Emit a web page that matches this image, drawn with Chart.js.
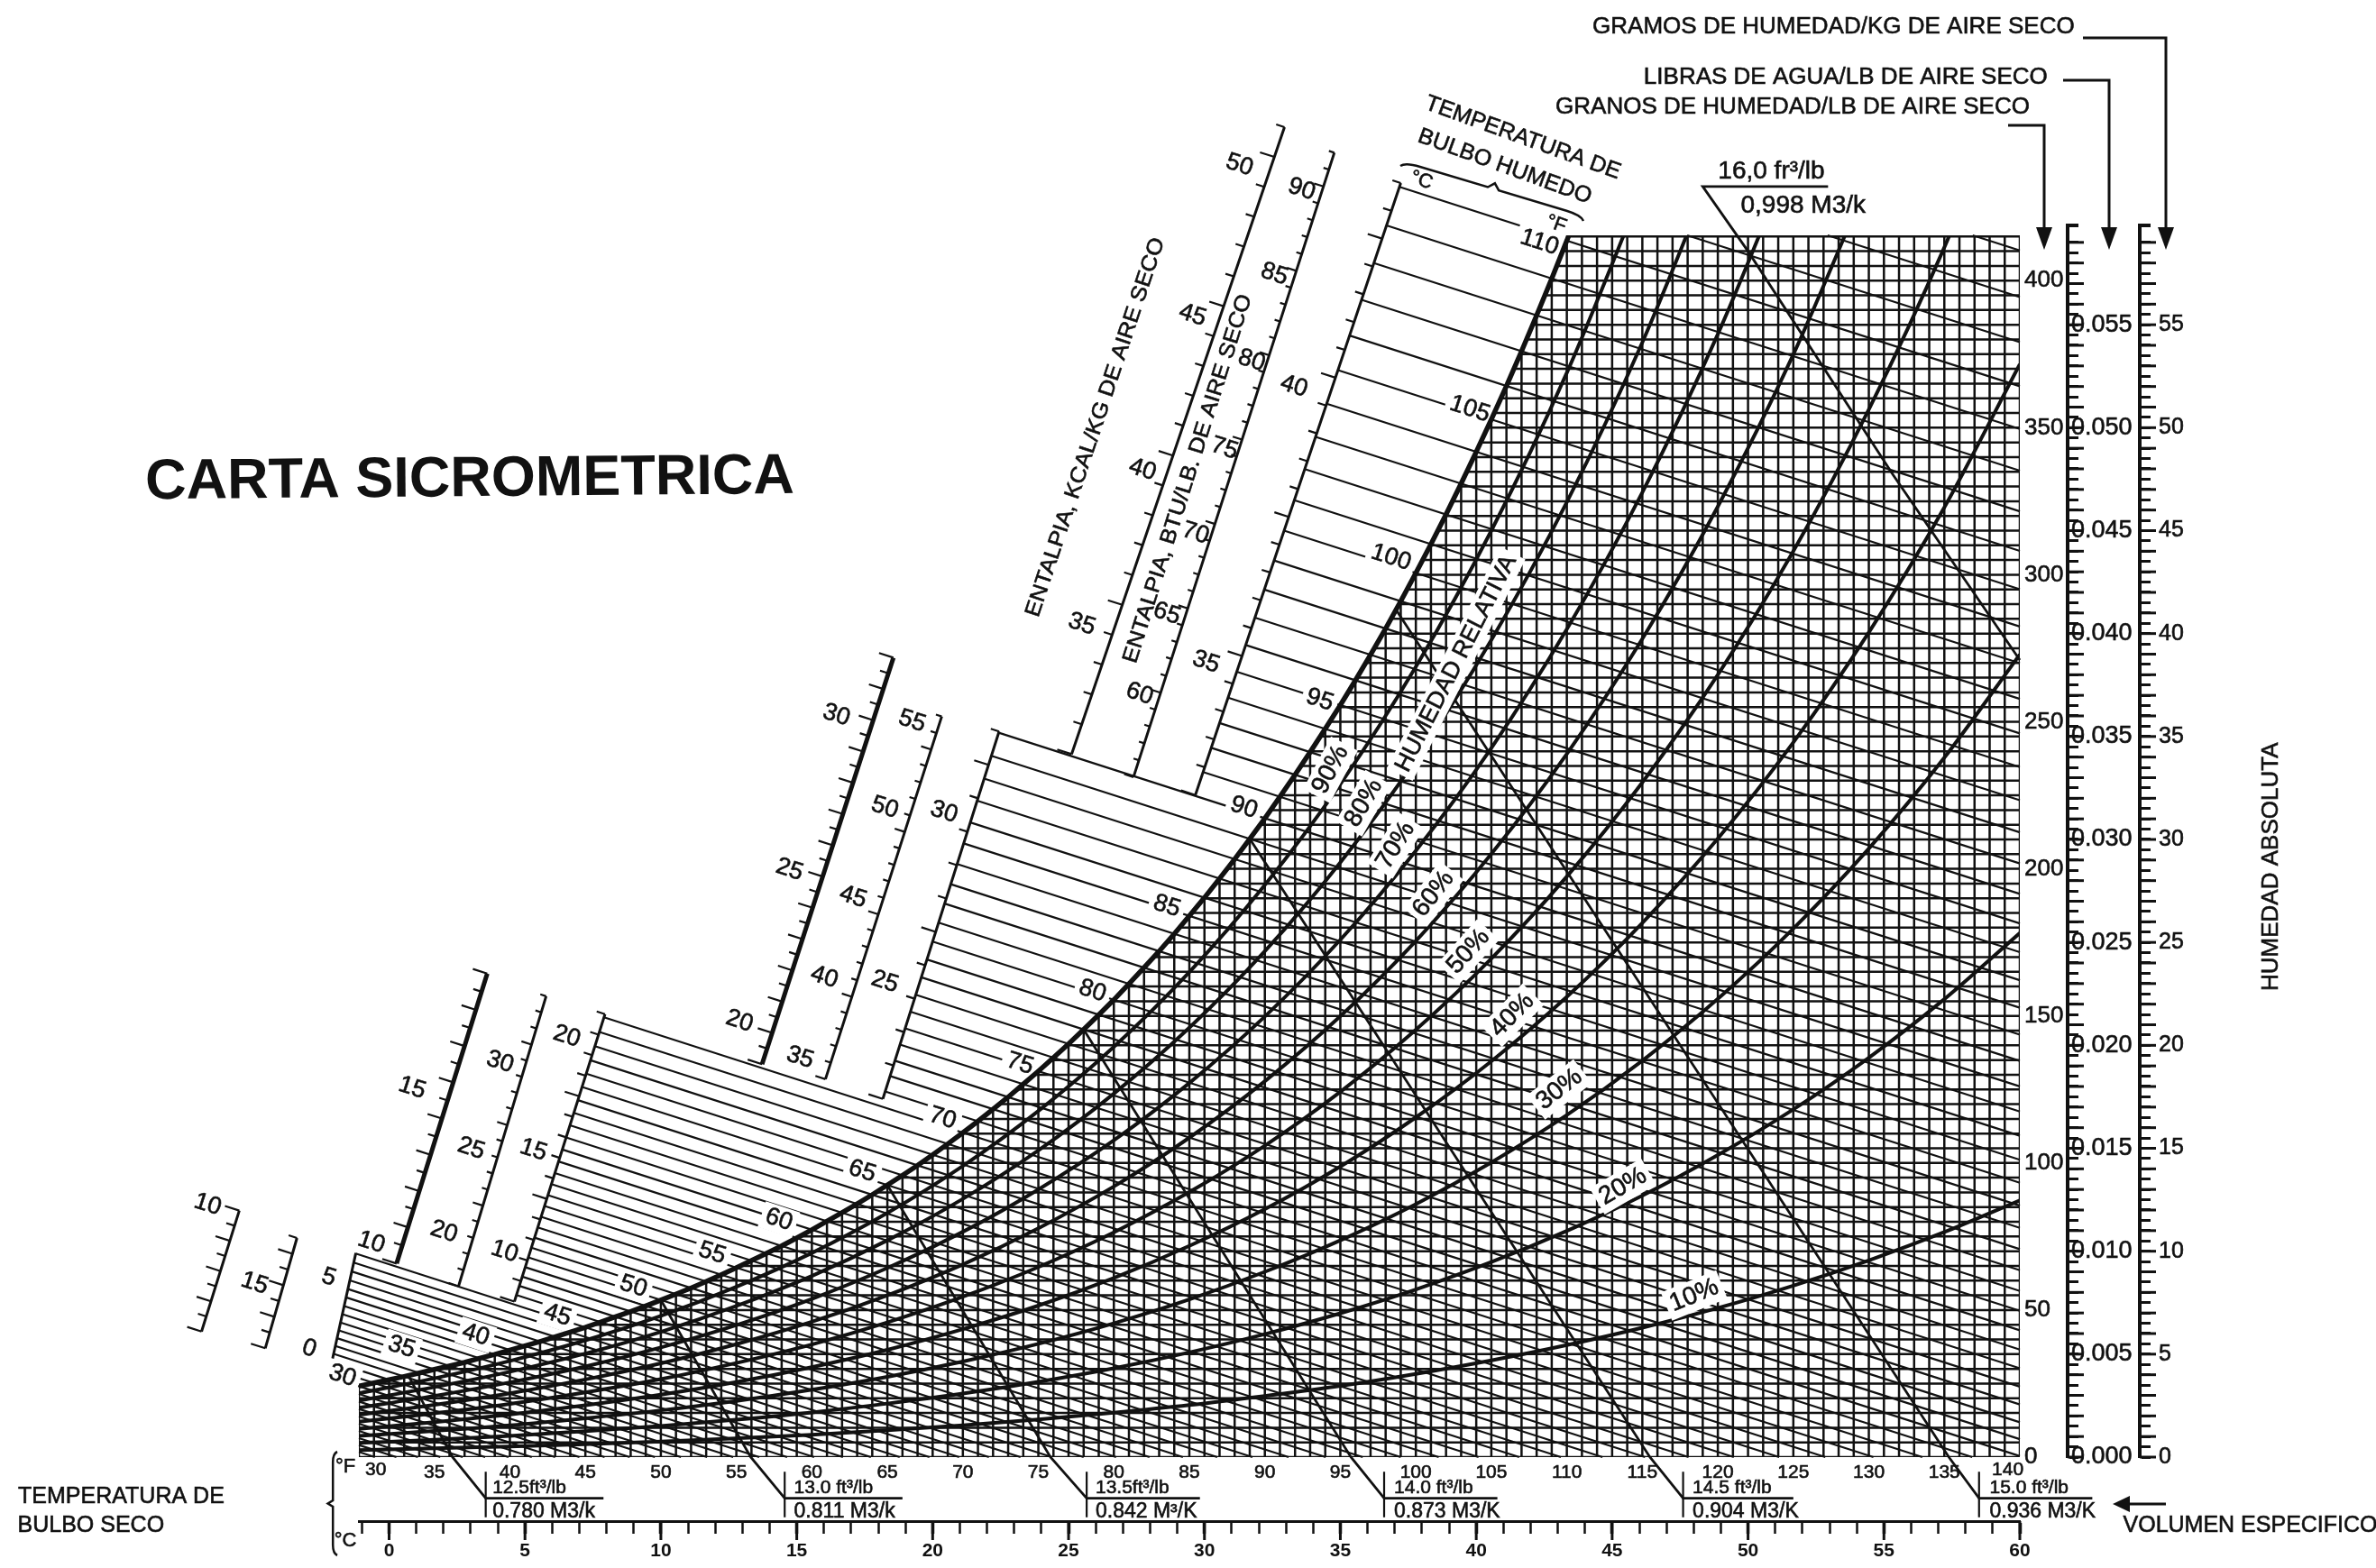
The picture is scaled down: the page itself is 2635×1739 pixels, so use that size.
<!DOCTYPE html>
<html><head><meta charset="utf-8">
<style>html,body{margin:0;padding:0;background:#fff;overflow:hidden}canvas{display:block}</style>
<script src="https://cdn.jsdelivr.net/npm/chart.js@4/dist/chart.umd.js"></script>
</head><body><canvas id="c" width="2635" height="1739"></canvas>
<script>
// ---- values (x: dry bulb °F, y: grains of moisture per lb) ----
const wetBulbF=[21,22,23,24,25,26,27,28,29,30,31,32,33,34,35,36,37,38,39,40,41,42,43,44,45,46,47,48,49,50,51,52,53,54,55,56,57,58,59,60,61,62,63,64,65,66,67,68,69,70,71,72,73,74,75,76,77,78,79,80,81,82,83,84,85,86,87,88,89,90,91,92,93,94,95,96,97,98,99,100,101,102,103,104,105,106,107,108,109,110,111,112,113];
const saturationGrains=[16.6,17.3,18.0,18.8,19.6,20.4,21.3,22.2,23.1,24.1,25.2,26.3,27.4,28.6,29.8,31.0,32.2,33.6,34.9,36.4,37.8,39.3,40.9,42.5,44.1,45.9,47.7,49.5,51.4,53.4,55.4,57.5,59.7,62.0,64.4,66.8,69.3,71.8,74.5,77.3,80.2,83.1,86.1,89.2,92.5,95.8,99.2,102.8,106.5,110.3,114.2,118.3,122.4,126.8,131.2,135.8,140.5,145.4,150.4,155.5,160.9,166.4,172.0,177.9,184.0,190.2,196.7,203.3,210.2,217.2,224.5,232.0,239.7,247.6,255.7,264.1,272.8,281.7,291.0,300.6,310.4,320.5,331.0,341.8,352.8,364.2,376.0,388.2,400.7,413.6,426.9,440.6,454.8];
const rhTemps=[30,35,40,45,50,55,60,65,70,75,80,85,90,95,100,105,110,115,120,125,130,135,140];
const rh90=[21.7,26.8,32.7,39.7,48.0,57.9,69.4,83.0,99.0,117.7,139.5,164.9,194.5,228.8,268.7,315,368.7,431];
const rh80=[19.2,23.8,29.0,35.2,42.6,51.4,61.6,73.7,87.8,104.3,123.6,146,172,202.2,237.2,277.8,324.7,379,441.8];
const rh70=[16.8,20.8,25.4,30.8,37.3,44.9,53.8,64.3,76.6,91.0,107.7,127.2,149.8,175.9,206.2,241.1,281.5,328,381.8,443.8];
const rh60=[14.4,17.8,21.7,26.4,31.9,38.4,46.0,55.0,65.5,77.8,92.0,108.6,127.8,149.9,175.5,205.1,239.1,278.2,323.2,374.9,434.5];
const rh50=[12.0,14.9,18.1,22.0,26.5,32.0,38.3,45.8,54.5,64.6,76.4,90.1,105.9,124.2,145.3,169.5,197.4,229.4,266,308,356.2,411.3,474.7];
const rh40=[9.6,11.9,14.5,17.6,21.2,25.5,30.6,36.5,43.5,51.5,60.9,71.8,84.3,98.8,115.5,134.6,156.5,181.6,210.3,243,280.4,322.9,371.6];
const rh30=[7.2,8.9,10.8,13.2,15.9,19.1,22.9,27.3,32.5,38.5,45.5,53.6,63.0,73.7,86.0,100.2,116.3,134.8,155.8,179.7,206.9,237.8,272.9];
const rh20=[4.8,5.9,7.2,8.8,10.6,12.7,15.2,18.2,21.6,25.6,30.2,35.6,41.8,48.9,57.0,66.3,76.9,88.9,102.7,118.2,135.8,155.7,178.2];
const rh10=[2.4,3.0,3.6,4.4,5.3,6.4,7.6,9.1,10.8,12.8,15.1,17.7,20.8,24.2,28.3,32.9,38.1,44,50.7,58.3,66.9,76.5,87.3];
// specific-volume lines: dry bulb / grains along each line, ending in the label rule below the axis
const vol125T=[33.3,36.2,38.4,46.2], vol125W=[27.5,0,-14,-14];
const vol130T=[50,55.95,58.2,66],    vol130W=[53.4,0,-14,-14];
const vol135T=[65,75.8,78.2,85.7],   vol135W=[92.5,0,-14,-14];
const vol140T=[78,95.7,97.9,105.4],  vol140W=[145.4,0,-14,-14];
const vol145T=[89,115.5,117.7,125],  vol145W=[210.2,0,-14,-14];
const vol150T=[98.7,135.3,137.3,144.8],vol150W=[288,0,-14,-14];
const vol160T=[127.3,119,122,131.6,140],vol160W=[432,432,410,334,271];
// wet-bulb blocks: highest and lowest end of each slanted left edge, and the wet-bulb range
const blockTopT=[29.8,46.3,72.4,99], blockTopW=[69.4,150.6,246.7,433.2];
const blockBotT=[28.1,40.3,64.7,85.4], blockBotW=[29.8,52.9,121.8,225.1];
const blockFirstWb=[30,46,71,91], blockLastWb=[45,70,90,110];
// slanted enthalpy / wet-bulb scales
const scaleTopT=[22.08,25.9,38.5,42.4,46.3,65.4,68.6,72.4,91.3,94.6,99];
const scaleTopW=[83.8,74.5,164.4,156.7,150.6,271.8,251.8,246.7,452.2,443.5,433.2];
const scaleBotT=[19.58,23.8,32.5,36.6,40.3,56.7,60.9,64.7,77.2,81.3,85.4];
const scaleBotW=[42.7,37,65.8,58.1,52.9,133.6,128.5,121.8,239,231.2,225.1];
const scaleIntervals=[8,7,16,18,14,26,22,11,21,37,22];
const scaleMajorEvery=[2,2,2,5,5,2,5,5,5,5,5];
const scaleThick=[0,0,1,0,0,1,0,0,0,0,0];
const scaleTickReach=[1,1,1,.7,1,1,.7,1,1,.65,1];

const WB_SLOPE=1.65, Y_MAX=415.4, INK='#111';
const satAt=t=>saturationGrains[wetBulbF.indexOf(t)];
function tempAtSat(w){
  for(let i=wetBulbF.indexOf(30);i<wetBulbF.length-1;i++){
    const a=saturationGrains[i],b=saturationGrains[i+1];
    if(w>=a&&w<=b) return wetBulbF[i]+(w-a)/(b-a);
  }
  return 30;
}
// ---- build line series ----
const gap={x:null,y:null};
const gridV=[],gridH=[],wbLines=[],scaleThin=[],scaleBold=[],scaleTicks=[];
for(let t=30;t<=140;t++){
  const top=t<=110?satAt(t):Y_MAX;
  gridV.push({x:t,y:0},{x:t,y:top},gap);
}
for(let w=0;w<=415;w+=5){
  gridH.push({x:w<24.1?30:tempAtSat(w),y:w},{x:140,y:w},gap);
}
gridH.push({x:110.1,y:Y_MAX},{x:140,y:Y_MAX},gap);
wetBulbF.forEach((tw,i)=>{
  const s=saturationGrains[i];
  let sx=30,sy=s-WB_SLOPE*(30-tw);
  if(tw>=30&&tw<=110){
    const b=blockLastWb.findIndex((l,k)=>tw>=blockFirstWb[k]&&tw<=l);
    const dT=blockTopT[b]-blockBotT[b],dW=blockTopW[b]-blockBotW[b];
    const u=(s-WB_SLOPE*(blockBotT[b]-tw)-blockBotW[b])/(dW+WB_SLOPE*dT);
    sx=blockBotT[b]+u*dT; sy=blockBotW[b]+u*dW;
  }else if(tw>110){ sx=tw+(s-Y_MAX)/WB_SLOPE; sy=Y_MAX; }
  let ex=140,ey=s-WB_SLOPE*(140-tw);
  if(ey<0){ex=tw+s/WB_SLOPE;ey=0;}
  wbLines.push({x:sx,y:sy},{x:ex,y:ey},gap);
});
scaleTopT.forEach((_,i)=>{
  const tt=scaleTopT[i],tw=scaleTopW[i],bt=scaleBotT[i],bw=scaleBotW[i],m=scaleIntervals[i];
  (scaleThick[i]?scaleBold:scaleThin).push({x:bt,y:bw},{x:tt,y:tw},gap);
  for(let k=0;k<=m;k++){
    const x=bt+(tt-bt)*k/m,y=bw+(tw-bw)*k/m,d=(k%scaleMajorEvery[i]===0?0.95:0.55)*scaleTickReach[i];
    scaleTicks.push({x,y},{x:x-d,y:y+WB_SLOPE*d},gap);
  }
});
scaleThin.push({x:blockBotT[0],y:blockBotW[0]},{x:blockTopT[0],y:blockTopW[0]},gap);
const zip=(xs,ys)=>xs.map((x,i)=>({x,y:ys[i]}));
const line=(data,w,extra)=>Object.assign({data,showLine:true,borderColor:INK,borderWidth:w,pointRadius:0,xAxisID:'x',yAxisID:'y',spanGaps:false,tension:0},extra||{});
const rhLine=v=>line(zip(rhTemps.slice(0,v.length),v),4,{cubicInterpolationMode:'monotone',tension:0});
const volLine=(t,w)=>line(zip(t,w),2.8,{clip:false});
const volTicks=[];
[38.4,58.2,78.2,97.9,117.7,137.3].forEach(t=>volTicks.push({x:t,y:-5},{x:t,y:-20.5},gap));
const satCurve=wetBulbF.filter(t=>t>=30&&t<=110).map(t=>({x:t,y:satAt(t)})).concat([{x:110.13,y:Y_MAX}]);
// Chart.js draws datasets last-to-first, so list the heavy lines before the grid
const datasets=[
  line(volTicks,2.2,{clip:false}),
  volLine(vol160T,vol160W),volLine(vol150T,vol150W),volLine(vol145T,vol145W),volLine(vol140T,vol140W),volLine(vol135T,vol135W),volLine(vol130T,vol130W),volLine(vol125T,vol125W),
  line(satCurve,5.5),
  rhLine(rh90),rhLine(rh80),rhLine(rh70),rhLine(rh60),rhLine(rh50),rhLine(rh40),rhLine(rh30),rhLine(rh20),rhLine(rh10),
  line(scaleTicks,2.2,{clip:false}),line(scaleBold,5,{clip:false}),line(scaleThin,3,{clip:false}),
  line(wbLines,2.2,{clip:false}),line(gridH,2.5),line(gridV,2.5)
];
const WB_LAST_INDEX=18; // scaleTicks: drawn after grid and wet-bulb lines, before the curves
// ---- text, in reference layout units ----
const U=2635/1568, FF='"Liberation Sans",Arial,sans-serif';
const notes=[];
const n=(t,x,y,r,s,o)=>notes.push(Object.assign({t,x,y,r:r||0,s:s||25},o||{}));
n('CARTA SICROMETRICA',310,317,-0.5,63,{bold:true});
n('GRAMOS DE HUMEDAD/KG DE AIRE SECO',1210,18,0,26);
n('LIBRAS DE AGUA/LB DE AIRE SECO',1218,51,0,26);
n('GRANOS DE HUMEDAD/LB DE AIRE SECO',1183,71,0,26);
n('TEMPERATURA DE',1005,91,20,25);
n('BULBO HUMEDO',993,110,20,25);
n('°C',938,119,20,22);n('°F',1027,148,20,22);
n('16,0 fr³/lb',1169,113,0,28);n('0,998 M3/k',1190,136,0,28);
n('ENTALPIA, KCAL/KG DE AIRE SECO',723,282,-71.5,24,{sx:1.08});
n('ENTALPIA, BTU/LB. DE AIRE SECO',784,316,-72.5,24,{sx:1.08});
n('HUMEDAD ABSOLUTA',1499,572,-90,26);
n('TEMPERATURA DE',80,988,0,25);n('BULBO SECO',60,1007,0,25);
n('VOLUMEN ESPECIFICO',1485,1007,0,25);
n('°F',228,968,0,22);n('°C',228,1017,0,22);
n('30',248,970,0,21);n('140',1325,970,0,21);
[['10',137,795],['15',168,847],['0',204,890],['5',217,843],['10',245,820],['15',272,718],['20',293,813],['25',311,758],['30',330,701],['10',333,826],['15',352,759],['20',374,684],['20',488,674],['25',521,574],['30',552,472],['35',528,698],['40',544,645],['45',563,592],['50',584,533],['55',602,476],['25',584,648],['30',623,536],['35',714,412],['40',754,310],['45',787,208],['50',818,109],['60',752,458],['65',770,405],['70',789,352],['75',808,296],['80',826,238],['85',841,181],['90',859,125],['35',796,437],['40',854,255]]
 .forEach(a=>n(a[0],a[1],a[2],18,27));
const wbNotes=[['30',226,908],['35',265,889],['40',314,881],['45',368,868],['50',418,849],['55',470,827],['60',514,805],['65',569,773],['70',622,738],['75',673,702],['80',721,654],['85',770,598],['90',821,533],['95',871,462],['100',918,368],['105',970,270],['110',1016,160]];
wbNotes.forEach(a=>n(a[0],a[1],a[2],18,27));
[['90%',878,508,-62],['80%',900,530,-60],['70%',921,558,-58],['60%',946,590,-52],['50%',969,628,-48],['40%',998,670,-45],['30%',1029,719,-38],['20%',1071,783,-30],['10%',1118,855,-22]]
 .forEach(a=>n(a[0],a[1],a[2],a[3],28,{bg:true}));
n('HUMEDAD RELATIVA',961,438,-63,26.5,{bg:true});
const volTop=['12.5ft³/lb','13.0 ft³/lb','13.5ft³/lb','14.0 ft³/lb','14.5 ft³/lb','15.0 ft³/lb'];
const volBot=['0.780 M3/k','0.811 M3/k','0.842 M³/K','0.873 M3/K','0.904 M3/K','0.936 M3/K'];
const volX=[325,524,723,920,1117,1313];
volX.forEach((x,i)=>{n(volTop[i],x,982,0,21,{left:true});n(volBot[i],x,998,0,23,{left:true});});

function brace(ctx,x0,y0,x1,y1,d){ // brace between two page points, pinch offset d
  const mx=(x0+x1)/2,my=(y0+y1)/2,dx=x1-x0,dy=y1-y0,L=Math.hypot(dx,dy),nx=-dy/L*d,ny=dx/L*d;
  ctx.beginPath();ctx.moveTo(x0,y0);
  ctx.quadraticCurveTo(x0+nx*.6+dx*.02,y0+ny*.6+dy*.02,x0+nx*.6+dx*.1,y0+ny*.6+dy*.1);
  ctx.lineTo(mx+nx*.6-dx*.03,my+ny*.6-dy*.03);ctx.lineTo(mx+nx*1.3,my+ny*1.3);ctx.lineTo(mx+nx*.6+dx*.03,my+ny*.6+dy*.03);
  ctx.lineTo(x1+nx*.6-dx*.1,y1+ny*.6-dy*.1);ctx.quadraticCurveTo(x1+nx*.6-dx*.02,y1+ny*.6-dy*.02,x1,y1);ctx.stroke();
}
const annot={id:'annot',
 beforeDraw(c){const x=c.ctx;x.save();x.fillStyle='#fff';x.fillRect(0,0,c.width,c.height);x.restore();},
 afterDatasetDraw(c,args){
  if(args.index!==WB_LAST_INDEX) return;
  const x=c.ctx;x.save();x.fillStyle='#fff';x.font='27px '+FF;
  wbNotes.forEach(a=>{
    x.save();x.translate(a[1]*U,a[2]*U);x.rotate(18*Math.PI/180);
    const w=x.measureText(a[0]).width;x.fillRect(-w/2-5,-15,w+10,30);x.restore();
  });
  x.restore();
 },
 afterDatasetsDraw(c){
  const x=c.ctx;x.save();x.fillStyle=INK;x.strokeStyle=INK;x.textBaseline='middle';
  notes.forEach(o=>{
    x.save();x.translate(o.x*U,o.y*U);x.rotate(o.r*Math.PI/180);
    if(o.sx)x.scale(o.sx,1);
    x.font=(o.bold?'bold ':'')+o.s+'px '+FF;x.textAlign=o.left?'left':'center';
    const w=x.measureText(o.t).width;
    if(o.bg){x.fillStyle='#fff';x.fillRect(-w/2-5,-o.s*.6,w+10,o.s*1.2);x.fillStyle=INK;}
    x.fillText(o.t,0,0);
    if(!o.bold){x.lineWidth=.6;x.strokeText(o.t,0,0);}
    x.restore();
  });
  // leaders with arrow heads
  x.lineWidth=3;
  [[2310,42,2402],[2288,89,2339],[2227,139,2267]].forEach(([a,y,b])=>{
    x.beginPath();x.moveTo(a,y);x.lineTo(b,y);x.lineTo(b,258);x.stroke();
    x.beginPath();x.moveTo(b-9,252);x.lineTo(b+9,252);x.lineTo(b,277);x.closePath();x.fill();
  });
  x.beginPath();x.moveTo(2362,1668);x.lineTo(2402,1668);x.stroke();
  x.beginPath();x.moveTo(2343,1668);x.lineTo(2362,1659);x.lineTo(2362,1677);x.closePath();x.fill();
  x.lineWidth=2.5;
  brace(x,374,1610,374,1725,8);
  brace(x,1553,184,1756,245,-9);
  // long ticks and the part of the right-hand rules above the plot
  const s2=c.scales.y2,s3=c.scales.y3,sc=c.scales.xC;
  x.lineWidth=3;
  [s2,s3].forEach(s=>{
    s.ticks.forEach((t,i)=>{ if(i%2===0){const p=s.getPixelForValue(t.value);x.beginPath();x.moveTo(s.left,p);x.lineTo(s.left+18,p);x.stroke();}});
    x.lineWidth=4;x.beginPath();x.moveTo(s.left,s.top);x.lineTo(s.left,250);x.lineTo(s.left+12,250);x.stroke();x.lineWidth=3;
  });
  sc.ticks.forEach(t=>{ if(t.value%5===0){const p=sc.getPixelForValue(t.value);x.beginPath();x.moveTo(p,sc.top);x.lineTo(p,sc.top+21);x.stroke();}});
  x.restore();
 }};
const tickFont=s=>({family:FF,size:s});
const stroke={textStrokeColor:INK,textStrokeWidth:.6};
const baseScale={type:'linear',border:{display:false},grid:{display:false,drawTicks:false}};
new Chart(document.getElementById('c'),{type:'scatter',data:{datasets},plugins:[annot],options:{
 responsive:false,animation:false,devicePixelRatio:1,
 layout:{padding:{left:398,top:261,right:172,bottom:0}},
 plugins:{legend:{display:false},tooltip:{enabled:false}},events:[],
 scales:{
  x:{...baseScale,axis:'x',position:'bottom',weight:0,min:30,max:140,
     afterFit:s=>{s.height=71;},
     ticks:{...stroke,stepSize:5,autoSkip:false,maxRotation:0,padding:5,color:INK,font:tickFont(21),
       callback:v=>(v===30||v===140)?'':String(v)}},
  xC:{type:'linear',axis:'x',position:'bottom',weight:1,min:-1.111,max:60,
     afterFit:s=>{s.height=52;},
     border:{display:true,color:INK,width:3},
     grid:{display:true,drawOnChartArea:false,drawTicks:true,tickLength:14,tickColor:INK,
       tickWidth:c=>c.tick&&c.tick.value%5===0?3.5:2.5},
     ticks:{stepSize:1,includeBounds:false,autoSkip:false,maxRotation:0,padding:7,color:INK,font:{family:FF,size:21,weight:'bold'},
       callback:v=>v%5===0?String(v):''}},
  y:{...baseScale,axis:'y',position:'right',weight:0,min:0,max:Y_MAX,
     afterFit:s=>{s.width=53;},
     ticks:{...stroke,stepSize:50,autoSkip:false,padding:5,color:INK,font:tickFont(26),
       callback:v=>v%50===0?String(v):''}},
  y2:{type:'linear',axis:'y',position:'right',weight:1,min:0,max:Y_MAX/7000,
     afterFit:s=>{s.width=80;},
     border:{display:true,color:INK,width:4},
     grid:{display:true,drawOnChartArea:false,drawTicks:true,tickLength:12,tickColor:INK,tickWidth:3},
     ticks:{...stroke,stepSize:0.0005,includeBounds:false,autoSkip:false,padding:-8,color:INK,font:tickFont(27),
       callback:v=>Math.round(v/0.0005)%10===0?v.toFixed(3):''}},
  y3:{type:'linear',axis:'y',position:'right',weight:2,min:0,max:Y_MAX/7,
     afterFit:s=>{s.width=90;},
     border:{display:true,color:INK,width:4},
     grid:{display:true,drawOnChartArea:false,drawTicks:true,tickLength:12,tickColor:INK,tickWidth:3},
     ticks:{...stroke,stepSize:0.5,includeBounds:false,autoSkip:false,padding:9,color:INK,font:tickFont(25),
       callback:v=>v%5===0?String(v):''}}
 }}});
</script></body></html>
